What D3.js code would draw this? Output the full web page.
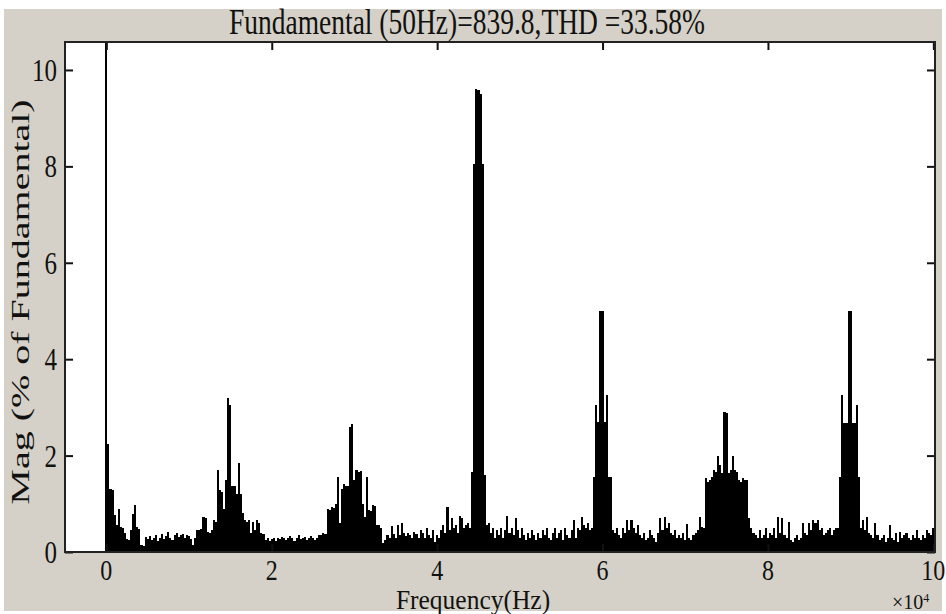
<!DOCTYPE html>
<html>
<head>
<meta charset="utf-8">
<script src="https://cdn.jsdelivr.net/npm/d3@7"></script>
<style>
  body { margin: 0; background: #fff; }
  svg { display: block; }
  text { font-family: "Liberation Serif", "Times New Roman", serif; fill: #111; }
</style>
</head>
<body>
<div id="chart"></div>
<script>
const title = 'Fundamental (50Hz)=839.8,THD =33.58%';
const yLabel = 'Mag (% of Fundamental)';
const xLabel = 'Frequency(Hz)';

const binHz = 250; // one value per 250 Hz, first value is the fundamental (clipped)
const xTicks = [0, 20000, 40000, 60000, 80000, 100000];
const yTicks = [0, 2, 4, 6, 8, 10];

// 0 - 19.75 kHz
const mag0 = [100, 2.25, 1.3, 1.28, 0.77, 0.55, 0.9, 0.52, 0.5, 0.39,
  0.27, 0.25, 0.46, 0.79, 0.97, 0.52, 0.48, 0.15, 0.12, 0.31,
  0.28, 0.33, 0.25, 0.3, 0.36, 0.22, 0.3, 0.38, 0.27, 0.33,
  0.41, 0.3, 0.25, 0.35, 0.4, 0.32, 0.35, 0.38, 0.3, 0.36,
  0.34, 0.28, 0.15, 0.3, 0.46, 0.45, 0.48, 0.73, 0.7, 0.42,
  0.4, 0.45, 0.66, 0.62, 1.7, 1.29, 1.25, 0.9, 1.49, 3.2,
  3.05, 1.36, 1.36, 1.2, 1.84, 1.2, 0.8, 0.66, 0.62, 0.66,
  0.39, 0.63, 0.45, 0.66, 0.6, 0.39, 0.38, 0.25, 0.3, 0.22];
// 20 - 39.75 kHz
const mag20 = [0.28, 0.3, 0.22, 0.3, 0.27, 0.32, 0.3, 0.25, 0.3, 0.33,
  0.3, 0.22, 0.3, 0.35, 0.28, 0.3, 0.32, 0.25, 0.3, 0.33,
  0.3, 0.24, 0.3, 0.36, 0.35, 0.4, 0.38, 0.9, 0.88, 0.94,
  0.92, 1.0, 1.56, 0.6, 1.3, 1.42, 1.36, 1.36, 2.6, 2.65,
  1.5, 1.7, 1.65, 1.67, 1.0, 0.73, 1.56, 0.87, 0.85, 0.98,
  0.95, 0.56, 0.55, 0.5, 0.18, 0.25, 0.35, 0.3, 0.53, 0.38,
  0.3, 0.55, 0.35, 0.6, 0.4, 0.33, 0.4, 0.35, 0.3, 0.42,
  0.38, 0.3, 0.45, 0.4, 0.3, 0.5, 0.35, 0.3, 0.45, 0.2];
// 40 - 59.75 kHz
const mag40 = [0.35, 0.3, 0.45, 0.55, 0.4, 0.94, 0.45, 0.7, 0.5, 0.55,
  0.4, 0.75, 0.7, 0.5, 0.55, 0.6, 0.5, 1.65, 8.05, 9.6,
  9.58, 9.5, 8.05, 1.6, 0.55, 0.6, 0.4, 0.5, 0.3, 0.45,
  0.35, 0.5, 0.3, 0.45, 0.75, 0.4, 0.5, 0.35, 0.7, 0.45,
  0.3, 0.5, 0.35, 0.25, 0.4, 0.3, 0.45, 0.35, 0.25, 0.4,
  0.3, 0.45, 0.35, 0.5, 0.3, 0.25, 0.4, 0.5, 0.3, 0.4,
  0.45, 0.25, 0.5, 0.35, 0.3, 0.45, 0.66, 0.3, 0.5, 0.45,
  0.73, 0.55, 0.5, 0.6, 0.45, 0.5, 1.56, 3.05, 2.7, 5.0];
// 60 - 79.75 kHz
const mag60 = [5.0, 2.7, 3.26, 1.56, 1.56, 0.45, 0.4, 0.5, 0.35, 0.3,
  0.5, 0.4, 0.66, 0.45, 0.66, 0.5, 0.4, 0.55, 0.35, 0.3,
  0.4, 0.25, 0.3, 0.45, 0.35, 0.3, 0.2, 0.4, 0.7, 0.45,
  0.72, 0.5, 0.6, 0.4, 0.35, 0.45, 0.3, 0.35, 0.3, 0.4,
  0.25, 0.58, 0.3, 0.25, 0.35, 0.4, 0.45, 0.73, 0.52, 0.5,
  1.53, 1.45, 1.5, 1.55, 1.7, 1.65, 2.0, 1.8, 1.63, 2.9,
  2.88, 1.63, 1.7, 2.0, 1.7, 1.65, 1.49, 1.45, 1.53, 1.5,
  1.5, 0.7, 0.5, 0.4, 0.35, 0.3, 0.45, 0.3, 0.35, 0.5];
// 80 - 100 kHz
const mag80 = [0.3, 0.4, 0.35, 0.5, 0.3, 0.73, 0.4, 0.7, 0.35, 0.3,
  0.63, 0.25, 0.2, 0.3, 0.35, 0.25, 0.3, 0.6, 0.4, 0.35,
  0.6, 0.45, 0.66, 0.6, 0.66, 0.45, 0.5, 0.35, 0.4, 0.45,
  0.5, 0.35, 0.45, 0.5, 0.5, 1.56, 3.26, 2.67, 2.67, 5.0,
  5.0, 2.67, 2.67, 3.05, 1.56, 0.5, 0.66, 0.45, 0.73, 0.4,
  0.35, 0.3, 0.6, 0.35, 0.25, 0.3, 0.35, 0.2, 0.3, 0.55,
  0.3, 0.25, 0.4, 0.2, 0.42, 0.3, 0.35, 0.4, 0.3, 0.25,
  0.35, 0.3, 0.45, 0.3, 0.25, 0.35, 0.3, 0.46, 0.4, 0.35, 0.5];

const mags = [].concat(mag0, mag20, mag40, mag60, mag80);
const bins = mags.map((v, i) => ({ f: i * binHz, v: v }));

const width = 946, height = 614;
const plot = { left: 65, right: 935, top: 42, bottom: 552 };
const stretch = 1.3; // the scanned figure is stretched vertically

const svg = d3.select('#chart').append('svg')
    .attr('width', width)
    .attr('height', height);

// figure background (grey, with a thin white margin like the scan)
svg.append('rect')
    .attr('x', 4).attr('y', 9)
    .attr('width', 938).attr('height', 602)
    .style('fill', '#d5d1c8');

const x = d3.scaleLinear().domain([-5000, 100200]).range([plot.left, plot.right]);
const y = d3.scaleLinear().domain([0, 10.58]).range([plot.bottom, plot.top]);

svg.append('defs').append('clipPath').attr('id', 'plotClip')
  .append('rect')
    .attr('x', plot.left).attr('y', plot.top)
    .attr('width', plot.right - plot.left).attr('height', plot.bottom - plot.top);

svg.append('rect')
    .attr('x', plot.left).attr('y', plot.top)
    .attr('width', plot.right - plot.left).attr('height', plot.bottom - plot.top)
    .style('fill', '#fff');

svg.append('g')
    .attr('clip-path', 'url(#plotClip)')
  .selectAll('rect')
  .data(bins)
  .join('rect')
    .attr('x', d => x(d.f - binHz / 2))
    .attr('width', d => x(d.f + binHz / 2) - x(d.f - binHz / 2))
    .attr('y', d => y(d.v))
    .attr('height', d => y(0) - y(d.v))
    .attr('shape-rendering', 'crispEdges')
    .style('fill', '#000');

// ticks inside the box on all four sides (MATLAB style)
const tickLen = 8;
const axisBottom = d3.axisBottom(x).tickValues(xTicks).tickSize(-tickLen).tickFormat('');
const axisTop = d3.axisTop(x).tickValues(xTicks).tickSize(-tickLen).tickFormat('');
const axisLeft = d3.axisLeft(y).tickValues(yTicks).tickSize(-tickLen).tickFormat('');
const axisRight = d3.axisRight(y).tickValues(yTicks).tickSize(-tickLen).tickFormat('');

[[axisBottom, `translate(0,${plot.bottom})`], [axisTop, `translate(0,${plot.top})`],
 [axisLeft, `translate(${plot.left},0)`], [axisRight, `translate(${plot.right},0)`]]
  .forEach(([ax, tr]) => {
    const g = svg.append('g').attr('transform', tr).call(ax);
    g.select('.domain').remove();
    g.selectAll('line').style('stroke', '#111').style('stroke-width', 2);
  });

svg.append('rect')
    .attr('x', plot.left).attr('y', plot.top)
    .attr('width', plot.right - plot.left).attr('height', plot.bottom - plot.top)
    .style('fill', 'none')
    .style('stroke', '#222')
    .style('stroke-width', 2);

// tick labels
svg.append('g').selectAll('text')
  .data(xTicks)
  .join('text')
    .attr('transform', d => `translate(${x(d)},580) scale(1,1.25)`)
    .attr('text-anchor', 'middle')
    .style('font-size', '24px')
    .text(d => d / 1e4);

svg.append('g').selectAll('text')
  .data(yTicks)
  .join('text')
    .attr('transform', d => `translate(57,${y(d) + 11}) scale(1,${stretch})`)
    .attr('text-anchor', 'end')
    .style('font-size', '25px')
    .text(d => d);

svg.append('text')
    .attr('transform', `translate(467,34) scale(1,${stretch})`)
    .attr('text-anchor', 'middle')
    .style('font-size', '27.5px')
    .text(title);

svg.append('text')
    .attr('transform', `translate(473,609) scale(1,1.05)`)
    .attr('text-anchor', 'middle')
    .style('font-size', '25.5px')
    .text(xLabel);

const mult = svg.append('text')
    .attr('transform', `translate(892,609) scale(1,1.1)`)
    .style('font-size', '20px');
mult.append('tspan').text('\u00d710');
mult.append('tspan').attr('dy', -6).style('font-size', '12px').text('4');

svg.append('text')
    .attr('transform', `translate(29,302) scale(1,1.6) rotate(-90)`)
    .attr('text-anchor', 'middle')
    .style('font-size', '25px')
    .text(yLabel);
</script>
</body>
</html>
